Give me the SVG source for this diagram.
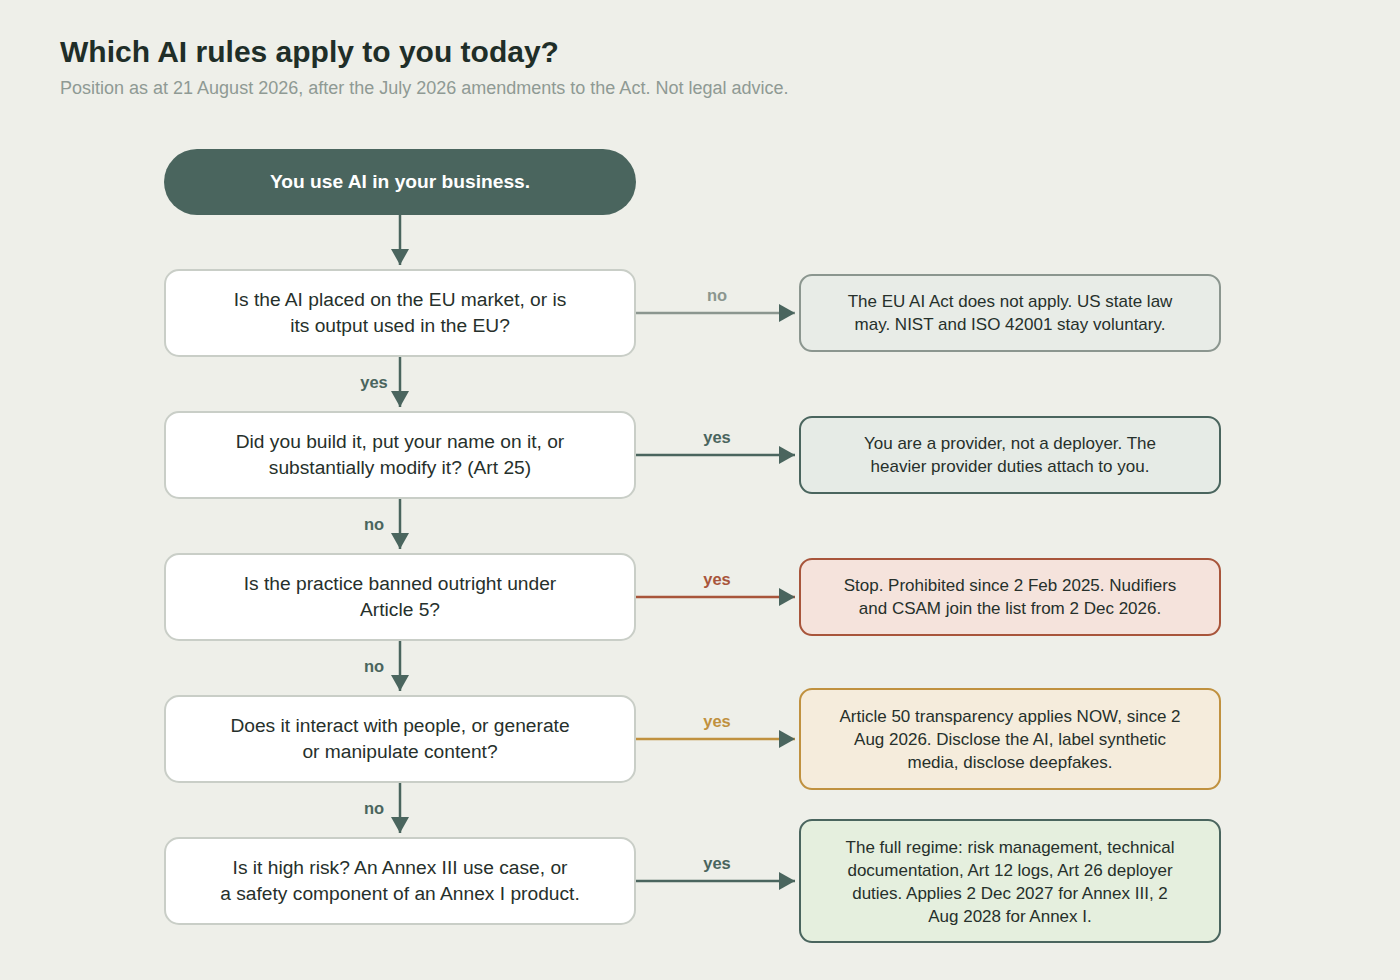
<svg xmlns="http://www.w3.org/2000/svg" width="1400" height="980" viewBox="0 0 1400 980">
<style>
text{font-family:"Liberation Sans",Arial,sans-serif}
.title{font-size:30px;font-weight:bold;fill:#1f2e28}
.sub{font-size:18px;fill:#8f9a94}
.q{fill:#ffffff;stroke:#c9cec7;stroke-width:2}
.qt{font-size:19.2px;fill:#26302b;text-anchor:middle}
.rt{font-size:17px;fill:#26302b;text-anchor:middle}
.lbl{font-size:16.5px;font-weight:bold;text-anchor:middle}
.c{fill:none;stroke-width:2.5}
</style>
<defs>
<marker id="ah" markerUnits="userSpaceOnUse" markerWidth="18" markerHeight="18" viewBox="0 0 16 18" refX="16" refY="9" orient="auto">
<path d="M0,0 L16,9 L0,18 Z" fill="#4a655e"/>
</marker>
</defs>
<rect width="1400" height="980" fill="#eeefe9"/>
<text class="title" x="60" y="62">Which AI rules apply to you today?</text>
<text class="sub" x="60" y="94">Position as at 21 August 2026, after the July 2026 amendments to the Act. Not legal advice.</text>

<g id="connectors">
<line class="c" x1="400" y1="215" x2="400" y2="265" stroke="#4a655e" marker-end="url(#ah)"/>
<line class="c" x1="400" y1="356" x2="400" y2="407" stroke="#4a655e" marker-end="url(#ah)"/>
<text class="lbl" x="374" y="388" fill="#4a655e">yes</text>
<line class="c" x1="400" y1="498" x2="400" y2="549" stroke="#4a655e" marker-end="url(#ah)"/>
<text class="lbl" x="374" y="530" fill="#4a655e">no</text>
<line class="c" x1="400" y1="640" x2="400" y2="691" stroke="#4a655e" marker-end="url(#ah)"/>
<text class="lbl" x="374" y="672" fill="#4a655e">no</text>
<line class="c" x1="400" y1="782" x2="400" y2="833" stroke="#4a655e" marker-end="url(#ah)"/>
<text class="lbl" x="374" y="814" fill="#4a655e">no</text>

<line class="c" x1="636" y1="313" x2="795" y2="313" stroke="#8b968f" marker-end="url(#ah)"/>
<text class="lbl" x="717" y="301" fill="#8b968f">no</text>
<line class="c" x1="636" y1="455" x2="795" y2="455" stroke="#4a655e" marker-end="url(#ah)"/>
<text class="lbl" x="717" y="443" fill="#4a655e">yes</text>
<line class="c" x1="636" y1="597" x2="795" y2="597" stroke="#a8553b" marker-end="url(#ah)"/>
<text class="lbl" x="717" y="585" fill="#a8553b">yes</text>
<line class="c" x1="636" y1="739" x2="795" y2="739" stroke="#c0913f" marker-end="url(#ah)"/>
<text class="lbl" x="717" y="727" fill="#c0913f">yes</text>
<line class="c" x1="636" y1="881" x2="795" y2="881" stroke="#4a655e" marker-end="url(#ah)"/>
<text class="lbl" x="717" y="869" fill="#4a655e">yes</text>
</g>

<g id="start">
<rect x="164" y="149" width="472" height="66" rx="33" fill="#4a655e"/>
<text x="400" y="188" text-anchor="middle" font-size="19.2" font-weight="bold" fill="#ffffff">You use AI in your business.</text>
</g>

<g id="q1">
<rect class="q" x="165" y="270" width="470" height="86" rx="14"/>
<text class="qt" x="400" y="306">Is the AI placed on the EU market, or is</text>
<text class="qt" x="400" y="332">its output used in the EU?</text>
</g>
<g id="q2">
<rect class="q" x="165" y="412" width="470" height="86" rx="14"/>
<text class="qt" x="400" y="448">Did you build it, put your name on it, or</text>
<text class="qt" x="400" y="474">substantially modify it? (Art 25)</text>
</g>
<g id="q3">
<rect class="q" x="165" y="554" width="470" height="86" rx="14"/>
<text class="qt" x="400" y="590">Is the practice banned outright under</text>
<text class="qt" x="400" y="616">Article 5?</text>
</g>
<g id="q4">
<rect class="q" x="165" y="696" width="470" height="86" rx="14"/>
<text class="qt" x="400" y="732">Does it interact with people, or generate</text>
<text class="qt" x="400" y="758">or manipulate content?</text>
</g>
<g id="q5">
<rect class="q" x="165" y="838" width="470" height="86" rx="14"/>
<text class="qt" x="400" y="874">Is it high risk? An Annex III use case, or</text>
<text class="qt" x="400" y="900">a safety component of an Annex I product.</text>
</g>

<g id="r1">
<rect x="800" y="275" width="420" height="76" rx="12" fill="#e8ece7" stroke="#8b968f" stroke-width="2"/>
<text class="rt" x="1010" y="307">The EU AI Act does not apply. US state law</text>
<text class="rt" x="1010" y="330">may. NIST and ISO 42001 stay voluntary.</text>
</g>
<g id="r2">
<rect x="800" y="417" width="420" height="76" rx="12" fill="#e6ebe6" stroke="#4a655e" stroke-width="2"/>
<text class="rt" x="1010" y="449">You are a provider, not a deployer. The</text>
<text class="rt" x="1010" y="472">heavier provider duties attach to you.</text>
</g>
<g id="r3">
<rect x="800" y="559" width="420" height="76" rx="12" fill="#f5e3dc" stroke="#a8553b" stroke-width="2"/>
<text class="rt" x="1010" y="591">Stop. Prohibited since 2 Feb 2025. Nudifiers</text>
<text class="rt" x="1010" y="614">and CSAM join the list from 2 Dec 2026.</text>
</g>
<g id="r4">
<rect x="800" y="689" width="420" height="100" rx="12" fill="#f5ecdc" stroke="#c0913f" stroke-width="2"/>
<text class="rt" x="1010" y="722">Article 50 transparency applies NOW, since 2</text>
<text class="rt" x="1010" y="745">Aug 2026. Disclose the AI, label synthetic</text>
<text class="rt" x="1010" y="768">media, disclose deepfakes.</text>
</g>
<g id="r5">
<rect x="800" y="820" width="420" height="122" rx="12" fill="#e5efde" stroke="#4a655e" stroke-width="2"/>
<text class="rt" x="1010" y="853">The full regime: risk management, technical</text>
<text class="rt" x="1010" y="876">documentation, Art 12 logs, Art 26 deployer</text>
<text class="rt" x="1010" y="899">duties. Applies 2 Dec 2027 for Annex III, 2</text>
<text class="rt" x="1010" y="922">Aug 2028 for Annex I.</text>
</g>
</svg>
